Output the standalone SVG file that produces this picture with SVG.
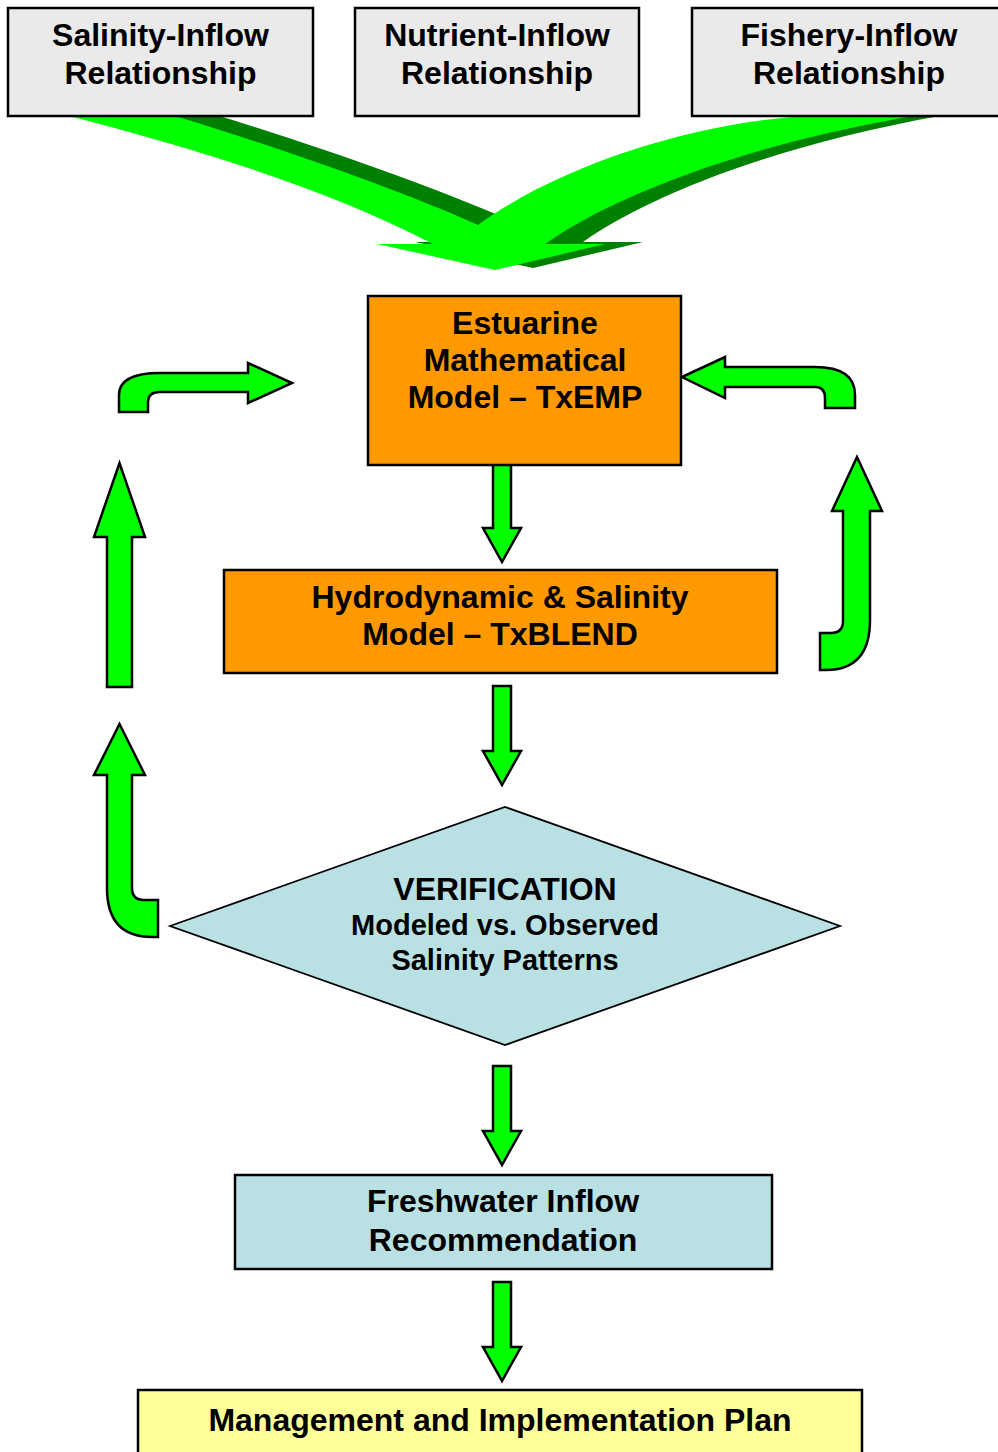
<svg xmlns="http://www.w3.org/2000/svg" width="998" height="1452" viewBox="0 0 998 1452">
<style>
  text { font-family: "Liberation Sans", Arial, Helvetica, sans-serif; font-weight: bold; fill: #000; text-anchor: middle; }
  .t32 { font-size: 32px; }
  .t29 { font-size: 29px; }
  .box { stroke: #000; stroke-width: 2.5; }
  .gray { fill: #eaeaea; }
  .orange { fill: #ff9900; }
  .blue { fill: #b9e0e3; }
  .yellow { fill: #ffff99; }
  .arrow { fill: #00ff00; stroke: #000; stroke-width: 2.5; stroke-linejoin: miter; }
  .merge { fill: #00ff00; }
  .shadow { fill: #008000; }
</style>
<defs>
  <path id="mergeShape" d="M73,112 L73,117 C200,150 330,190 433,244 L377,244 L495,270 L605,244 L545,244 C600,205 720,150 907,117 L907,112 L793,112 L793,117 C690,125 560,165 478,225 C400,190 280,148 178,117 L178,112 Z"/>
</defs>
<rect width="998" height="1452" fill="#ffffff"/>
<g id="connectors">
  <use href="#mergeShape" class="shadow" transform="translate(38,-2)"/>
  <use href="#mergeShape" class="merge"/>
  <path class="arrow" d="M493,462 H511 V528 H521 L502,562 L483,528 H493 Z"/>
  <path class="arrow" d="M493,686 H511 V751 H521 L502,785 L483,751 H493 Z"/>
  <path class="arrow" d="M493,1066 H511 V1131 H521 L502,1165 L483,1131 H493 Z"/>
  <path class="arrow" d="M493,1282 H511 V1347 H521 L502,1381 L483,1347 H493 Z"/>
  <path class="arrow" d="M107,687 V537 H94 L119.5,463 L145,537 H132 V687 Z"/>
  <path class="arrow" d="M119.5,724 L145,775 H132 V888 Q132,900 144,900 H158 V937 H152 Q107,937 107,888 V775 H94 Z"/>
  <path class="arrow" d="M857,457 L882,511 H870 V620 Q870,670 826,670 H820 V633 H831 Q843,633 843,621 V511 H832 Z"/>
  <path class="arrow" d="M119,412 V395 Q119,373 160,373 H248 V363 L292,383 L248,403 V392 H160 Q148,392 148,402 V412 Z"/>
  <path class="arrow" d="M682,377 L725,357 V367 H815 Q855,367 855,395 V408 H825 V398 Q825,387 815,387 H725 V398 Z"/>
</g>
<g id="node-salinity">
  <rect class="box gray" x="8" y="8" width="305" height="108"/>
  <text class="t32" x="160.5" y="46">Salinity-Inflow</text>
  <text class="t32" x="160.5" y="84">Relationship</text>
</g>
<g id="node-nutrient">
  <rect class="box gray" x="355" y="8" width="284" height="108"/>
  <text class="t32" x="497" y="46">Nutrient-Inflow</text>
  <text class="t32" x="497" y="84">Relationship</text>
</g>
<g id="node-fishery">
  <rect class="box gray" x="692" y="8" width="320" height="108"/>
  <text class="t32" x="849" y="46">Fishery-Inflow</text>
  <text class="t32" x="849" y="84">Relationship</text>
</g>
<g id="node-txemp">
  <rect class="box orange" x="368" y="296" width="313" height="169"/>
  <text class="t32" x="525" y="334">Estuarine</text>
  <text class="t32" x="525" y="371">Mathematical</text>
  <text class="t32" x="525" y="408">Model – TxEMP</text>
</g>
<g id="node-txblend">
  <rect class="box orange" x="224" y="570" width="553" height="103"/>
  <text class="t32" x="500" y="608">Hydrodynamic &amp; Salinity</text>
  <text class="t32" x="500" y="645">Model – TxBLEND</text>
</g>
<g id="node-verification">
  <polygon points="170,926 505,807 840,926 505,1045" fill="#b9e0e3" stroke="#000" stroke-width="1.8"/>
  <text class="t32" x="505" y="900">VERIFICATION</text>
  <text class="t29" x="505" y="935">Modeled vs. Observed</text>
  <text class="t29" x="505" y="970">Salinity Patterns</text>
</g>
<g id="node-recommendation">
  <rect class="box blue" x="235" y="1175" width="537" height="94"/>
  <text class="t32" x="503" y="1212">Freshwater Inflow</text>
  <text class="t32" x="503" y="1251">Recommendation</text>
</g>
<g id="node-management">
  <rect class="box yellow" x="138" y="1390" width="724" height="80"/>
  <text class="t32" x="500" y="1431">Management and Implementation Plan</text>
</g>
</svg>
